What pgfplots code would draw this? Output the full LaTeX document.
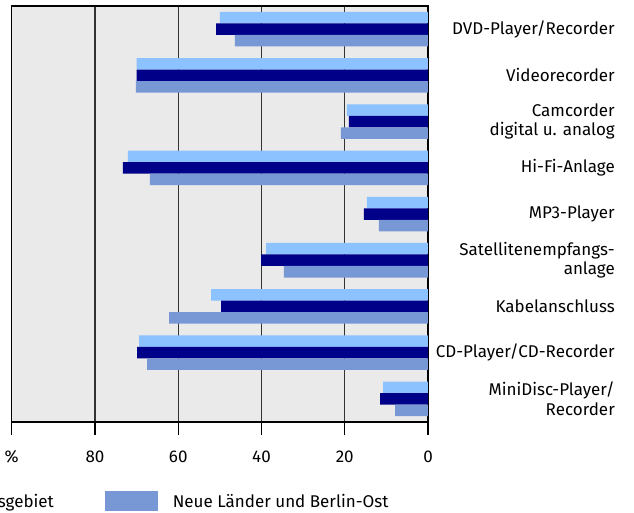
\documentclass[border=0pt]{standalone}
\usepackage{fontspec}
\setmainfont{Fira Sans}
\usepackage{pgfplots}
\pgfplotsset{compat=1.18}

\definecolor{hellblau}{HTML}{8CC2FF}
\definecolor{dunkelblau}{HTML}{000088}
\definecolor{mittelblau}{HTML}{7797D5}
\definecolor{hintergrund}{HTML}{EAEAEA}
\definecolor{gitter}{HTML}{333333}

\begin{document}
\begin{tikzpicture}[font=\fontsize{17}{19.5}\selectfont]
\useasboundingbox (0pt,0pt) rectangle (634pt,-512pt);
\clip (0pt,0pt) rectangle (634pt,-512pt);
\begin{axis}[
  at={(11.75pt,-422pt)}, anchor=south west,
  scale only axis, width=416.25pt, height=416pt,
  xbar, bar width=0.249,
  xmin=0, xmax=100, x dir=reverse,
  ymin=-0.5, ymax=8.5, y dir=reverse,
  axis background/.style={fill=hintergrund},
  axis line style={black, line width=1.5pt},
  xmajorgrids, grid style={gitter, line width=1.3pt},
  xtick={0,20,40,60,80,100},
  xticklabels={0,20,40,60,80,\%},
  xtick pos=bottom, tick align=outside, major tick length=13pt,
  xtick style={black, line width=1.3pt},
  xticklabel style={yshift=-12pt},
  ytick={0,...,8}, ytick style={draw=none},
  yticklabel pos=right,
  yticklabels={DVD-Player/Recorder, Videorecorder, {Camcorder\\digital u. analog},
    Hi-Fi-Anlage, MP3-Player, {Satellitenempfangs-\\anlage}, Kabelanschluss,
    CD-Player/CD-Recorder, {MiniDisc-Player/\\Recorder}},
  yticklabel style={anchor=east, xshift=174pt, align=right, inner sep=0pt},
  every tick label/.append style={font=\fontsize{17}{19.5}\selectfont},
  legend columns=-1,
  legend style={at={(axis description cs:0.9176,-0.1611)}, anchor=north east,
    draw=none, fill=none, font=\fontsize{17}{19.5}\selectfont,
    /tikz/every odd column/.append style={column sep=13pt},
    /tikz/every even column/.append style={column sep=49pt}},
  legend image code/.code={\fill[#1] (0pt,-10pt) rectangle (53pt,10pt);},
]
% Deutschland
\addplot[fill=hellblau, draw=none, bar shift=-0.249] coordinates {
  (50.0,0) (70.0,1) (19.5,2) (72.1,3) (14.7,4) (38.9,5) (52.1,6) (69.4,7) (10.8,8)};
% Frueheres Bundesgebiet
\addplot[fill=dunkelblau, draw=none, bar shift=0] coordinates {
  (50.9,0) (70.0,1) (19.0,2) (73.3,3) (15.4,4) (40.1,5) (49.7,6) (69.9,7) (11.5,8)};
% Neue Laender und Berlin-Ost
\addplot[fill=mittelblau, draw=none, bar shift=0.249] coordinates {
  (46.4,0) (70.2,1) (20.9,2) (66.8,3) (11.8,4) (34.6,5) (62.2,6) (67.5,7) (7.9,8)};
\legend{Deutschland, Früheres Bundesgebiet, Neue Länder und Berlin-Ost}
\end{axis}
\end{tikzpicture}
\end{document}
